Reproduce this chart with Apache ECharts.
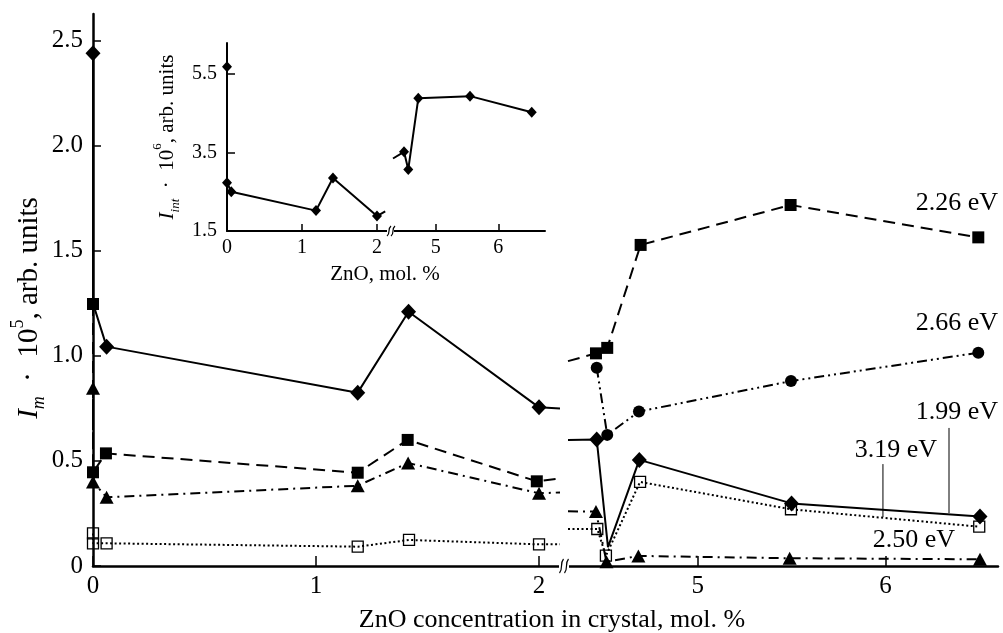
<!DOCTYPE html>
<html>
<head>
<meta charset="utf-8">
<script src="https://cdn.jsdelivr.net/npm/echarts@6/dist/echarts.min.js"></script>
<style>
html, body { margin: 0; background: #fff; }
#main { width: 1003px; height: 633px; }
</style>
</head>
<body>
<div id="main"></div>
<script>
// values, [ZnO mol.%, intensity]
// main plot, left part of the broken axis
var eV199Left = [[0, 2.44], [0, 1.25], [0.061, 1.044], [1.187, 0.825], [1.415, 1.21], [2.0, 0.755], [2.094, 0.75]];
var eV226Left = [[0, 1.247], [0, 0.446], [0.058, 0.536], [1.187, 0.444], [1.411, 0.60], [1.99, 0.403], [2.094, 0.416]];
var eV250Left = [[0, 0.846], [0, 0.40], [0.061, 0.327], [1.187, 0.382], [1.413, 0.49], [2.0, 0.346], [2.094, 0.35]];
var eV319Left = [[0, 0.155], [0, 0.108], [0.061, 0.108], [1.187, 0.092], [1.417, 0.124], [2.0, 0.103], [2.094, 0.103]];

// main plot, right part
var eV199Right = [[4.309, 0.60], [4.462, 0.602], [4.522, 0.09], [4.689, 0.505], [5.50, 0.298], [6.504, 0.235]];
var eV226Right = [[4.309, 0.975], [4.458, 1.012], [4.518, 1.038], [4.696, 1.528], [5.495, 1.718], [6.495, 1.564]];
var eV266Right = [[4.462, 0.944], [4.518, 0.624], [4.687, 0.735], [5.497, 0.88], [6.495, 1.015]];
var eV250Right = [[4.309, 0.26], [4.458, 0.259], [4.514, 0.02], [4.684, 0.048], [5.49, 0.037], [6.504, 0.032]];
var eV319Right = [[4.309, 0.176], [4.465, 0.176], [4.511, 0.049], [4.693, 0.40], [5.497, 0.27], [6.50, 0.187]];

// inset, integral intensity
var intLeft = [[0, 5.69], [0, 2.73], [0.057, 2.50], [1.187, 2.02], [1.413, 2.85], [2.0, 1.88], [2.11, 2.0]];
var intRight = [[4.318, 3.35], [4.494, 3.52], [4.562, 3.07], [4.722, 4.885], [5.548, 4.94], [6.534, 4.53]];

// points that only carry the line (no marker of their own)
var hide199Left = [1, 6], hide226Left = [6], hide250Left = [6], hide319Left = [6];
var hide199Right = [0, 2], hide226Right = [0], hide250Right = [0], hide319Right = [0];
var hideIntLeft = [6], hideIntRight = [0];

var mainYTicks = [0, 0.5, 1.0, 1.5, 2.0, 2.5];
var insetYTicks = [1.5, 3.5, 5.5];
var leftXTicks = [0, 1, 2];
var rightXTicks = [5, 6];

var FONT = '"Liberation Serif", "Times New Roman", serif';

var chart = echarts.init(document.getElementById('main'));

function pts(arr, hide) {
    return arr.map(function (p, i) {
        return hide.indexOf(i) >= 0 ? { value: p, symbol: 'none' } : p;
    });
}

function lineSeries(data, hide, axis, st) {
    return {
        type: 'line',
        xAxisIndex: axis,
        yAxisIndex: axis,
        data: pts(data, hide),
        symbol: st.symbol,
        symbolSize: st.size,
        showAllSymbol: true,
        clip: true,
        animation: false,
        lineStyle: { color: '#000', width: st.width || 2, type: st.dash || 'solid' },
        itemStyle: st.hollow
            ? { color: 'rgba(0,0,0,0)', borderColor: '#000', borderWidth: 1.3 }
            : { color: '#000' },
        emphasis: { disabled: true }
    };
}

var solid = { symbol: 'diamond', size: [15, 16] };
var dashed = { symbol: 'rect', size: 12, dash: [12, 7] };
var dashDot = { symbol: 'triangle', size: [14, 13], dash: [10, 5, 2, 5] };
var dashDotDot = { symbol: 'circle', size: 12, dash: [10, 4, 2, 4, 2, 4] };
var dotted = { symbol: 'rect', size: 11, dash: [2, 2.5], hollow: true };
var insetSt = { symbol: 'diamond', size: [10, 11], width: 2 };

function xAxis(grid, min, max, ticks, size, len) {
    return {
        type: 'value', gridIndex: grid, min: min, max: max,
        axisLine: { show: true, onZero: false, lineStyle: { color: '#000', width: size > 22 ? 2.5 : 2 } },
        axisTick: { show: true, inside: true, length: len, customValues: ticks, lineStyle: { color: '#000', width: 1.5 } },
        axisLabel: { customValues: ticks, color: '#000', fontFamily: FONT, fontSize: size, margin: size > 22 ? 8 : 7 },
        splitLine: { show: false }
    };
}

function yAxis(grid, min, max, ticks, size, show) {
    return {
        type: 'value', gridIndex: grid, min: min, max: max, show: show,
        axisLine: { show: true, lineStyle: { color: '#000', width: size > 22 ? 2.5 : 2 } },
        axisTick: { show: true, inside: true, length: 8, customValues: ticks, lineStyle: { color: '#000', width: 1.5 } },
        axisLabel: {
            customValues: ticks, color: '#000', fontFamily: FONT, fontSize: size, margin: 10,
            formatter: function (v) { return v === 0 ? '0' : v.toFixed(1); }
        },
        splitLine: { show: false }
    };
}

option = {
    backgroundColor: '#fff',
    animation: false,
    grid: [
        { left: 93, top: 14, width: 467, height: 552 },
        { left: 568, top: 14, width: 430, height: 552 },
        { left: 227, top: 43, width: 161, height: 188 },
        { left: 393, top: 43, width: 152, height: 188 }
    ],
    xAxis: [
        xAxis(0, 0, 2.094, leftXTicks, 25, 10),
        xAxis(1, 4.309, 6.6, rightXTicks, 25, 10),
        xAxis(2, 0, 2.147, leftXTicks, 20, 7),
        xAxis(3, 4.318, 6.746, rightXTicks, 20, 7)
    ],
    yAxis: [
        yAxis(0, 0, 2.627, mainYTicks, 25, true),
        yAxis(1, 0, 2.627, mainYTicks, 25, false),
        yAxis(2, 1.5, 6.296, insetYTicks, 20, true),
        yAxis(3, 1.5, 6.296, insetYTicks, 20, false)
    ],
    series: [
        lineSeries(eV319Left, hide319Left, 0, dotted),
        lineSeries(eV250Left, hide250Left, 0, dashDot),
        lineSeries(eV226Left, hide226Left, 0, dashed),
        lineSeries(eV199Left, hide199Left, 0, solid),

        lineSeries(eV319Right, hide319Right, 1, dotted),
        lineSeries(eV250Right, hide250Right, 1, dashDot),
        lineSeries(eV266Right, [], 1, dashDotDot),
        lineSeries(eV226Right, hide226Right, 1, dashed),
        lineSeries(eV199Right, hide199Right, 1, solid),

        lineSeries(intLeft, hideIntLeft, 2, insetSt),
        lineSeries(intRight, hideIntRight, 3, insetSt)
    ]
};

chart.setOption(option);

// annotations: axis titles, line labels, axis break marks
function px(grid, p) {
    return chart.convertToPixel({ xAxisIndex: grid, yAxisIndex: grid }, p);
}

function label(text, grid, p, size, align) {
    var q = px(grid, p);
    return {
        type: 'text', x: q[0], y: q[1], silent: true,
        style: { text: text, fill: '#000', font: size + 'px ' + FONT, align: align || 'right', verticalAlign: 'middle' }
    };
}

function leader(grid, a, b) {
    var p = px(grid, a), q = px(grid, b);
    return {
        type: 'line', silent: true,
        shape: { x1: p[0], y1: p[1], x2: q[0], y2: q[1] },
        style: { stroke: '#000', lineWidth: 1 }
    };
}

// one "S" stroke of the axis-break mark
function wave(x, y, h) {
    var s = h / 2;
    return {
        type: 'bezierCurve', silent: true, z: 100,
        shape: { x1: x - 2, y1: y + s, cpx1: x + 2, cpy1: y + s / 3, cpx2: x - 2, cpy2: y - s / 3, x2: x + 2, y2: y - s },
        style: { fill: null, stroke: '#000', lineWidth: 1.2 }
    };
}

function yTitle(x, y, size, sub, sup) {
    var lh = size + 10;
    var r = {
        i: { fontFamily: FONT, fontSize: size, fontStyle: 'italic', lineHeight: lh, verticalAlign: 'middle' },
        sub: { fontFamily: FONT, fontSize: size * 0.62, fontStyle: 'italic', lineHeight: lh, verticalAlign: 'bottom' },
        n: { fontFamily: FONT, fontSize: size, lineHeight: lh, verticalAlign: 'middle' },
        sup: { fontFamily: FONT, fontSize: size * 0.62, lineHeight: lh, verticalAlign: 'top' }
    };
    return {
        type: 'text', x: x, y: y, rotation: Math.PI / 2, silent: true,
        style: {
            text: '{i|I}{sub|' + sub + '}{n|  ·  10}{sup|' + sup + '}{n|, arb. units}',
            rich: r, fill: '#000', align: 'center', verticalAlign: 'middle'
        }
    };
}

var p0 = px(0, [2.094, 0]);
var p1 = px(2, [2.147, 1.5]);

chart.setOption({
    graphic: [
        // white gaps where the x axes are broken
        { type: 'rect', shape: { x: p0[0] - 1, y: p0[1] - 3, width: 10, height: 6 }, style: { fill: '#fff' }, z: 99, silent: true },
        wave(p0[0] + 1.5, p0[1], 14),
        wave(p0[0] + 6.5, p0[1], 14),
        { type: 'rect', shape: { x: p1[0] - 1, y: p1[1] - 3, width: 7, height: 6 }, style: { fill: '#fff' }, z: 99, silent: true },
        wave(p1[0] + 1, p1[1], 10),
        wave(p1[0] + 5, p1[1], 10),

        label('2.26 eV', 1, [6.6, 1.728], 26),
        label('2.66 eV', 1, [6.6, 1.157], 26),
        label('1.99 eV', 1, [6.6, 0.733], 26),
        label('3.19 eV', 1, [6.275, 0.552], 26),
        label('2.50 eV', 1, [6.371, 0.124], 26),
        leader(1, [6.339, 0.252], [6.339, 0.657]),
        leader(1, [5.987, 0.233], [5.987, 0.485]),

        {
            type: 'text', x: 552, y: 620, silent: true,
            style: { text: 'ZnO concentration in crystal, mol. %', fill: '#000', font: '26px ' + FONT, align: 'center', verticalAlign: 'middle' }
        },
        {
            type: 'text', x: 385, y: 274, silent: true,
            style: { text: 'ZnO, mol. %', fill: '#000', font: '21px ' + FONT, align: 'center', verticalAlign: 'middle' }
        },
        yTitle(29, 308, 29, 'm', '5'),
        yTitle(167, 137, 21, 'int', '6')
    ]
});
</script>
</body>
</html>
